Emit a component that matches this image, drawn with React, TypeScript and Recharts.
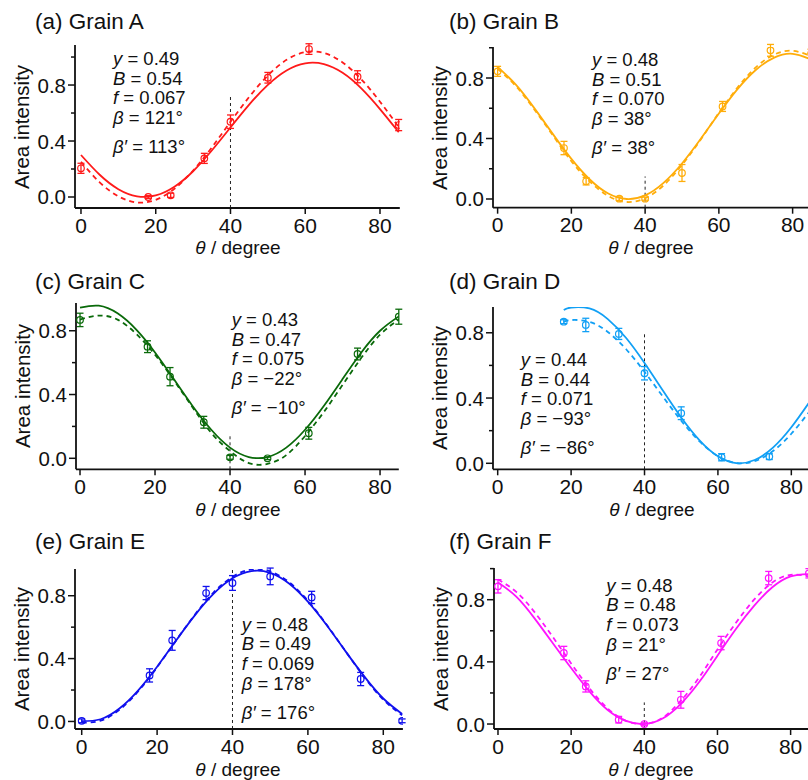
import React from 'react'
import { ComposedChart, Line, Scatter, ErrorBar, XAxis, YAxis, ReferenceLine } from 'recharts'

const FONT = '"Liberation Sans", Arial, sans-serif'
const INK = '#111'

// ---- data ----
const titles = ['(a) Grain A', '(b) Grain B', '(c) Grain C', '(d) Grain D', '(e) Grain E', '(f) Grain F']
const colors = ['#ff1a1a', '#ffad0a', '#0a6a0a', '#12a0f5', '#1010ee', '#ff14ff']

const pointTheta = [0, 18, 24, 33, 40, 50, 61, 74, 85]
const pointThetaD = [18, 24, 33, 40, 50, 61, 74]

const intensityA = [0.205, 0.0, 0.012, 0.276, 0.538, 0.852, 1.057, 0.859, 0.514]
const errA = [0.036, 0.01, 0.015, 0.036, 0.048, 0.038, 0.038, 0.043, 0.04]
const intensityB = [0.844, 0.337, 0.117, 0.002, 0.002, 0.172, 0.612, 0.983, 0.96]
const errB = [0.033, 0.044, 0.024, 0.012, 0.01, 0.056, 0.033, 0.039, 0.03]
const intensityC = [0.868, 0.7, 0.512, 0.226, 0.006, 0.0, 0.157, 0.654, 0.888]
const errC = [0.042, 0.037, 0.057, 0.037, 0.012, 0.008, 0.037, 0.037, 0.047]
const intensityD = [0.868, 0.848, 0.793, 0.552, 0.307, 0.037, 0.041]
const errD = [0.012, 0.041, 0.034, 0.041, 0.039, 0.022, 0.018]
const intensityE = [0.004, 0.293, 0.516, 0.817, 0.881, 0.923, 0.789, 0.27, 0.004]
const errE = [0.012, 0.042, 0.063, 0.042, 0.047, 0.053, 0.039, 0.042, 0.012]
const intensityF = [0.886, 0.457, 0.242, 0.028, 0.0, 0.156, 0.521, 0.939, 0.97]
const errF = [0.043, 0.043, 0.036, 0.021, 0.008, 0.054, 0.043, 0.043, 0.03]

const curveTheta = [0, 5, 10, 15, 20, 25, 30, 35, 40, 45, 50, 55, 60, 65, 70, 75, 80, 85]
const curveThetaD = [18, 20, 25, 30, 35, 40, 45, 50, 55, 60, 65, 70, 75, 80, 85]

const fitA = [0.3, 0.159, 0.056, 0.005, 0.011, 0.073, 0.184, 0.332, 0.497, 0.66, 0.801, 0.904, 0.955, 0.949, 0.887, 0.776, 0.628, 0.463]
const dashA = [0.252, 0.105, 0.005, -0.039, -0.02, 0.059, 0.189, 0.354, 0.537, 0.715, 0.868, 0.98, 1.035, 1.029, 0.961, 0.841, 0.681, 0.5]
const fitB = [0.874, 0.754, 0.599, 0.429, 0.265, 0.129, 0.036, 0.0, 0.024, 0.107, 0.235, 0.395, 0.565, 0.725, 0.853, 0.935, 0.96, 0.923]
const dashB = [0.86, 0.745, 0.59, 0.42, 0.25, 0.115, 0.02, -0.02, 0.005, 0.09, 0.225, 0.39, 0.57, 0.735, 0.87, 0.955, 0.98, 0.945]
const fitC = [0.945, 0.957, 0.909, 0.807, 0.664, 0.497, 0.328, 0.179, 0.067, 0.008, 0.008, 0.067, 0.179, 0.328, 0.497, 0.664, 0.8, 0.89]
const dashC = [0.87, 0.895, 0.87, 0.78, 0.65, 0.49, 0.32, 0.16, 0.045, -0.03, -0.035, 0.02, 0.14, 0.29, 0.46, 0.63, 0.775, 0.87]
const fitD = [0.94, 0.955, 0.949, 0.884, 0.768, 0.615, 0.446, 0.281, 0.141, 0.043, 0.001, 0.02, 0.096, 0.221, 0.378]
const dashD = [0.867, 0.878, 0.867, 0.805, 0.699, 0.561, 0.409, 0.261, 0.134, 0.044, 0.002, 0.013, 0.075, 0.181, 0.319]
const fitE = [0.002, 0.014, 0.082, 0.198, 0.348, 0.514, 0.675, 0.813, 0.911, 0.957, 0.946, 0.878, 0.762, 0.612, 0.446, 0.285, 0.146, 0.048]
const dashE = [-0.008, 0.005, 0.074, 0.192, 0.345, 0.514, 0.679, 0.821, 0.92, 0.968, 0.955, 0.886, 0.768, 0.615, 0.446, 0.281, 0.139, 0.04]
const fitF = [0.91, 0.82, 0.68, 0.52, 0.36, 0.21, 0.09, 0.02, 0.0, 0.035, 0.13, 0.27, 0.44, 0.61, 0.76, 0.88, 0.95, 0.965]
const dashF = [0.93, 0.85, 0.72, 0.56, 0.39, 0.23, 0.1, 0.02, 0.0, 0.04, 0.15, 0.3, 0.48, 0.65, 0.8, 0.91, 0.96, 0.95]

// top end of the dashed guide at theta = 40
const markerTheta = 40
const markerTop = [0.716, 0.149, 0.146, 0.797, 0.97, 0.139]

const paramY = ['0.49', '0.48', '0.43', '0.44', '0.48', '0.48']
const paramB = ['0.54', '0.51', '0.47', '0.44', '0.49', '0.48']
const paramF = ['0.067', '0.070', '0.075', '0.071', '0.069', '0.073']
const paramBeta = ['121°', '38°', '−22°', '−93°', '178°', '21°']
const paramBetaP = ['113°', '38°', '−10°', '−86°', '176°', '27°']

const xTicks = [0, 20, 40, 60, 80]
const yTicks = [0, 0.2, 0.4, 0.6, 0.8, 1.0]
const yLabelled = [0, 0.4, 0.8]

// ---- layout (page pixels) ----
const layout = [
  { left: 75, right: 399.8, top: 45, bottom: 208, xd: [-1.6, 85.3], yd: [-0.0786, 1.086], tx: 113, ty: 58.3, titleX: 35, titleY: 22, xLabelX: 238 },
  { left: 492.7, right: 816.3, top: 47.3, bottom: 208, xd: [-1.25, 86.5], yd: [-0.0575, 1.005], tx: 592, ty: 59.3, titleX: 449, titleY: 22, xLabelX: 651 },
  { left: 76, right: 398.8, top: 303, bottom: 469.3, xd: [-1.07, 85], yd: [-0.069, 0.974], tx: 231.7, ty: 319.3, titleX: 35, titleY: 282, xLabelX: 238 },
  { left: 493.3, right: 815.5, top: 307, bottom: 469.3, xd: [-1.28, 86.5], yd: [-0.0368, 0.958], tx: 520.7, ty: 359.3, titleX: 449, titleY: 282, xLabelX: 652 },
  { left: 75, right: 402.9, top: 569.3, bottom: 729.3, xd: [-1.78, 85.2], yd: [-0.048, 0.97], tx: 241.7, ty: 624, titleX: 35, titleY: 542, xLabelX: 238 },
  { left: 494, right: 814.4, top: 568.3, bottom: 729.3, xd: [-1.09, 86.5], yd: [-0.032, 1.004], tx: 606.3, ty: 585, titleX: 449, titleY: 542, xLabelX: 651 },
]

const series = [
  { th: pointTheta, v: intensityA, e: errA, ct: curveTheta, fit: fitA, dash: dashA },
  { th: pointTheta, v: intensityB, e: errB, ct: curveTheta, fit: fitB, dash: dashB },
  { th: pointTheta, v: intensityC, e: errC, ct: curveTheta, fit: fitC, dash: dashC },
  { th: pointThetaD, v: intensityD, e: errD, ct: curveThetaD, fit: fitD, dash: dashD },
  { th: pointTheta, v: intensityE, e: errE, ct: curveTheta, fit: fitE, dash: dashE },
  { th: pointTheta, v: intensityF, e: errF, ct: curveTheta, fit: fitF, dash: dashF },
]

const Y_AXIS_W = 70
const X_AXIS_H = 50
const PAD = 10

function YTick(props: any) {
  const { x, y, payload } = props
  const major = yLabelled.includes(payload.value)
  return (
    <g>
      <line x1={x} x2={x - (major ? 7 : 4)} y1={y} y2={y} stroke={INK} strokeWidth={1.5} />
      {major && (
        <text x={x - 9} y={y} textAnchor="end" dominantBaseline="central" fontSize={20.5} fontFamily={FONT} fill={INK}>
          {payload.value.toFixed(1)}
        </text>
      )}
    </g>
  )
}

function XTick(props: any) {
  const { x, y, payload } = props
  return (
    <g>
      <line x1={x} x2={x} y1={y} y2={y + 6} stroke={INK} strokeWidth={1.5} />
      <text x={x} y={y + 24.8} textAnchor="middle" fontSize={21} fontFamily={FONT} fill={INK}>
        {payload.value}
      </text>
    </g>
  )
}

function Panel({ i }: { i: number }) {
  const L = layout[i]
  const s = series[i]
  const color = colors[i]
  const points = s.th.map((x, k) => ({ x, y: s.v[k], err: s.e[k] }))
  const solid = s.ct.map((x, k) => ({ x, v: s.fit[k] }))
  const dashed = s.ct.map((x, k) => ({ x, v: s.dash[k] }))
  const width = L.right - L.left + Y_AXIS_W + PAD
  const height = L.bottom - L.top + PAD + X_AXIS_H
  const ticksInRange = yTicks.filter((t) => t >= L.yd[0] && t <= L.yd[1])
  const lineH = 19.8
  const textStyle = { position: 'absolute' as const, left: L.tx, fontSize: 18.5, lineHeight: '19px', whiteSpace: 'nowrap' as const, color: INK }

  const paramLines = [
    <><i>y</i> = {paramY[i]}</>,
    <><i>B</i> = {paramB[i]}</>,
    <><i>f</i> = {paramF[i]}</>,
    <><i>β</i> = {paramBeta[i]}</>,
  ]

  return (
    <>
      <div style={{ position: 'absolute', left: L.titleX, top: L.titleY - 12, fontSize: 22.5, lineHeight: '24px', whiteSpace: 'nowrap', color: INK }}>
        {titles[i]}
      </div>

      <div style={{ position: 'absolute', left: L.left - Y_AXIS_W, top: L.top - PAD }}>
        <ComposedChart width={width} height={height} margin={{ top: PAD, right: PAD, bottom: 0, left: 0 }}>
          <XAxis
            type="number"
            dataKey="x"
            domain={L.xd}
            allowDataOverflow
            ticks={xTicks}
            interval={0}
            tickSize={0}
            tickMargin={0}
            tickLine={false}
            tick={<XTick />}
            height={X_AXIS_H}
            axisLine={{ stroke: INK, strokeWidth: 1.8 }}
          />
          <YAxis
            type="number"
            domain={L.yd}
            allowDataOverflow
            ticks={ticksInRange}
            interval={0}
            tickSize={0}
            tickMargin={0}
            tickLine={false}
            tick={<YTick />}
            width={Y_AXIS_W}
            axisLine={{ stroke: INK, strokeWidth: 1.8 }}
          />
          <ReferenceLine
            segment={[{ x: markerTheta, y: L.yd[0] }, { x: markerTheta, y: markerTop[i] }]}
            stroke="#222"
            strokeWidth={1}
            strokeDasharray="3 3"
          />
          <Line data={dashed} dataKey="v" type="natural" stroke={color} strokeWidth={1.8} strokeDasharray="5 4" dot={false} isAnimationActive={false} />
          <Line data={solid} dataKey="v" type="natural" stroke={color} strokeWidth={1.8} dot={false} isAnimationActive={false} />
          <Scatter
            data={points}
            dataKey="y"
            isAnimationActive={false}
            shape={(p: any) => <circle cx={p.cx} cy={p.cy} r={3.3} fill="none" stroke={color} strokeWidth={1.2} />}
          >
            <ErrorBar dataKey="err" direction="y" width={3.5} stroke={color} strokeWidth={1.3} isAnimationActive={false} />
          </Scatter>
        </ComposedChart>
      </div>

      {/* axis titles */}
      <div
        style={{
          position: 'absolute',
          left: L.left - 53 - 80,
          top: (L.top + L.bottom) / 2 - 12,
          width: 160,
          height: 24,
          lineHeight: '24px',
          textAlign: 'center',
          fontSize: 20.5,
          whiteSpace: 'nowrap',
          transform: 'rotate(-90deg)',
          color: INK,
        }}
      >
        Area intensity
      </div>
      <div
        style={{
          position: 'absolute',
          left: L.xLabelX - 80,
          top: L.bottom + 29.4,
          width: 160,
          lineHeight: '21px',
          textAlign: 'center',
          fontSize: 19,
          whiteSpace: 'nowrap',
          color: INK,
        }}
      >
        <i>θ</i> / degree
      </div>

      {/* fit parameters */}
      {paramLines.map((content, k) => (
        <div key={k} style={{ ...textStyle, top: L.ty + k * lineH - 9.5 }}>
          {content}
        </div>
      ))}
      <div style={{ ...textStyle, top: L.ty + 3 * lineH + 28.7 - 9.5 }}>
        <i>β′</i> = {paramBetaP[i]}
      </div>
    </>
  )
}

export default function App() {
  return (
    <div style={{ position: 'absolute', left: 0, top: 0, width: 808, height: 780, overflow: 'hidden', background: '#fff', fontFamily: FONT }}>
      {layout.map((_, i) => (
        <Panel key={i} i={i} />
      ))}
    </div>
  )
}
